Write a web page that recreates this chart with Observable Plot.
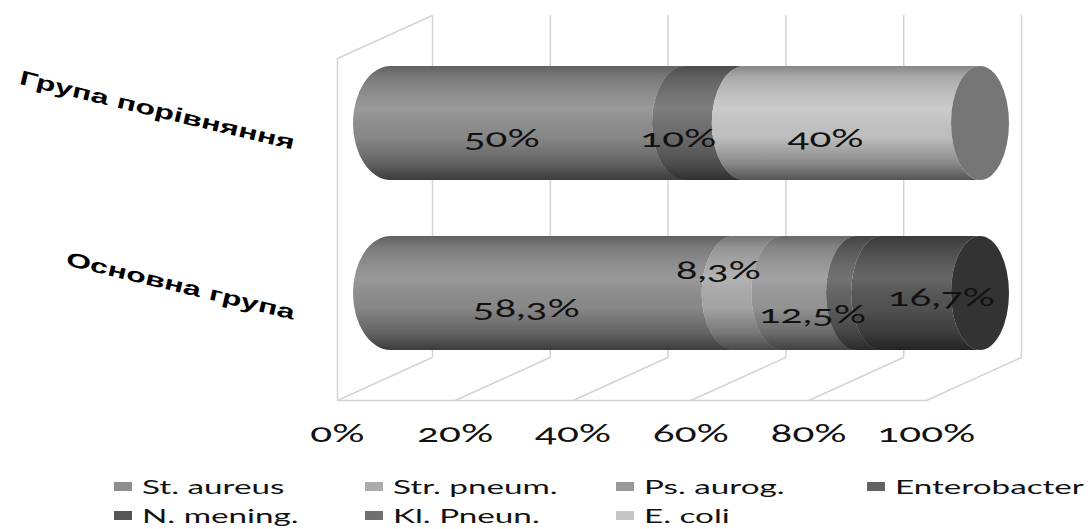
<!DOCTYPE html>
<html>
<head>
<meta charset="utf-8">
<script src="https://cdn.jsdelivr.net/npm/d3@7"></script>
<script src="https://cdn.jsdelivr.net/npm/@observablehq/plot@0.6"></script>
<style>
  body { margin: 0; background: #fff; }
  #chart { position: relative; width: 1088px; height: 529px; overflow: hidden; }
  #chart svg text { font-variant-numeric: oldstyle-nums; }
  .legend { position: absolute; left: 0; top: 460px; width: 1088px; height: 69px;
            font-family: Lato, "Open Sans", sans-serif; font-size: 20px; color: #111; }
  .item { position: absolute; display: flex; align-items: center; white-space: nowrap; height: 24px; }
  .sw { width: 18px; height: 9px; margin-right: 10px; flex: none; }
  .lbl { display: inline-block; transform: scaleX(1.66); transform-origin: left center; }
</style>
</head>
<body>
<div id="chart"></div>
<script>
// Groups of patients and the pathogens found in them (share of isolates, %)
const groups = ["Група порівняння", "Основна група"];
const species = ["St. aureus", "Str. pneum.", "Ps. aurog.", "Enterobacter", "N. mening.", "Kl. Pneun.", "E. coli"];
const comparisonPct = [50, 0, 0, 0, 0, 10, 40];
const mainPct = [58.3, 8.3, 12.5, 4.2, 16.7, 0, 0];
const speciesGreys = ["#8e8e8e", "#ababab", "#999999", "#636363", "#555555", "#707070", "#c6c6c6"];
const tickValues = [0, 20, 40, 60, 80, 100];

// Long table for the stacked bars
const rows = [];
[[groups[0], comparisonPct], [groups[1], mainPct]].forEach(([group, pcts]) =>
  pcts.forEach((value, i) => { if (value > 0) rows.push({group, species: species[i], value}); })
);

const pct = v => String(v).replace(".", ",") + "%";

// Label offsets from the segment centre; the crowded ones in the main group get their own
const defaultOffset = [-37, 15];
const labelOffset = {
  "Основна група|Str. pneum.": [-41, -23],
  "Основна група|Ps. aurog.": [-8, 21],
  "Основна група|N. mening.": [10, 4]
};
const key = d => d.group + "|" + d.species;

const grid = "#d3d3d3";
const front = -54, back = 41;           // floor depth offsets (front edge / back wall)
const edge = {draw(ctx, l) { ctx.moveTo(0, 0); ctx.lineTo(0, -l); }};
const labelFont = "Lato, 'Open Sans', sans-serif";

const labelMark = (keep, [dx, dy]) => Plot.text(rows, Plot.stackX({
  x: "value", y: "group",
  text: d => keep(d) && d.value >= 5 ? pct(d.value) : "",
  dx, dy, fontSize: 25, fontFamily: labelFont, fill: "#111"
}));

const chart = Plot.plot({
  width: 1088,
  height: 460,
  marginLeft: 391,
  marginRight: 108,
  marginTop: 10,
  marginBottom: 54,
  style: {background: "transparent", overflow: "visible"},
  x: {domain: [0, 100], axis: null},
  y: {domain: groups, padding: 0.329, axis: null},
  color: {domain: species, range: speciesGreys},
  marks: [
    // back wall gridlines
    Plot.ruleX(tickValues, {x: d => d, dx: back, insetTop: 5, insetBottom: 49, stroke: grid, strokeWidth: 1.5}),
    // floor lines running from the front edge to the back wall
    Plot.vector(tickValues, {x: d => d, frameAnchor: "bottom", dx: front, dy: -6, length: 104, rotate: 65.6,
      anchor: "start", shape: edge, stroke: grid, strokeWidth: 1.5}),
    // front edge of the floor
    Plot.frame({anchor: "bottom", dx: front, dy: -6, stroke: grid, strokeWidth: 1.5}),
    // left side wall
    Plot.ruleX([0], {x: d => d, dx: front, insetTop: 48, insetBottom: 6, stroke: grid, strokeWidth: 1.5}),
    Plot.vector([0], {x: d => d, frameAnchor: "top", dx: front, dy: 48, length: 104, rotate: 65.6,
      anchor: "start", shape: edge, stroke: grid, strokeWidth: 1.5}),
    // stacked segments (reshaped into cylinders below)
    Plot.barX(rows, {x: "value", y: "group", fill: "species"}),
    // value labels
    labelMark(d => !(key(d) in labelOffset), defaultOffset),
    ...Object.entries(labelOffset).map(([k, off]) => labelMark(d => key(d) === k, off)),
    // x tick labels under the floor
    Plot.text(tickValues, {x: d => d, frameAnchor: "bottom", dx: front, dy: 35, text: d => d + "%",
      fontSize: 25, fontFamily: labelFont, fill: "#111"}),
    // group labels
    Plot.text(groups, {y: d => d, x: () => 0, text: d => d, dx: -97, dy: 20, rotate: 13.5, textAnchor: "end",
      fontSize: 20, fontWeight: "bold", fontFamily: "'Liberation Sans', Arial, sans-serif", fill: "#000"})
  ]
});

const host = document.getElementById("chart");
host.appendChild(chart);

// Widen every label horizontally
chart.querySelectorAll("text").forEach(t => {
  const len = t.getComputedTextLength();
  if (len > 0) {
    const w = getComputedStyle(t).fontWeight;
    const bold = w === "bold" || +w >= 600;
    t.setAttribute("textLength", (len * (bold ? 1.6 : 1.62)).toFixed(1));
    t.setAttribute("lengthAdjust", "spacingAndGlyphs");
  }
});

// Turn the flat stacked bars into shaded cylinders
const ns = "http://www.w3.org/2000/svg";
const xs = chart.scale("x");
const px0 = xs.apply(0), px100 = xs.apply(100);
const rxAt = px => 38 + (29 - 38) * (px - px0) / (px100 - px0);

const defs = document.createElementNS(ns, "defs");
const grad = document.createElementNS(ns, "linearGradient");
grad.setAttribute("id", "cyl-shade");
grad.setAttribute("x1", 0); grad.setAttribute("y1", 0); grad.setAttribute("x2", 0); grad.setAttribute("y2", 1);
[[0, "#000", 0.32], [0.1, "#000", 0.14], [0.38, "#fff", 0.10], [0.62, "#000", 0.04], [0.85, "#000", 0.30], [1, "#000", 0.58]]
  .forEach(([o, c, a]) => {
    const s = document.createElementNS(ns, "stop");
    s.setAttribute("offset", o); s.setAttribute("stop-color", c); s.setAttribute("stop-opacity", a);
    grad.appendChild(s);
  });
defs.appendChild(grad);
chart.insertBefore(defs, chart.firstChild);

const barGroup = chart.querySelector('g[aria-label="bar"]');
const rects = [...barGroup.querySelectorAll("rect")];
const byRow = d3.group(rects, r => r.getAttribute("y"));
const path = (a, b, top, bottom, ry) =>
  `M${a},${top}H${b}A${rxAt(b)},${ry} 0 0 0 ${b},${bottom}H${a}A${rxAt(a)},${ry} 0 0 1 ${a},${top}Z`;

for (const [, segs] of byRow) {
  const top = +segs[0].getAttribute("y"), h = +segs[0].getAttribute("height");
  const bottom = top + h, ry = h / 2;
  let minA = Infinity, maxB = -Infinity, lastFill = null;
  for (const r of segs) {
    const a = +r.getAttribute("x"), b = a + +r.getAttribute("width");
    const p = document.createElementNS(ns, "path");
    p.setAttribute("d", path(a, b, top, bottom, ry));
    p.setAttribute("fill", r.getAttribute("fill"));
    barGroup.appendChild(p);
    minA = Math.min(minA, a);
    if (b > maxB) { maxB = b; lastFill = r.getAttribute("fill"); }
    r.remove();
  }
  const shade = document.createElementNS(ns, "path");
  shade.setAttribute("d", path(minA, maxB, top, bottom, ry));
  shade.setAttribute("fill", "url(#cyl-shade)");
  barGroup.appendChild(shade);
  const cap = document.createElementNS(ns, "ellipse");
  cap.setAttribute("cx", maxB); cap.setAttribute("cy", top + ry);
  cap.setAttribute("rx", rxAt(maxB)); cap.setAttribute("ry", ry);
  cap.setAttribute("fill", d3.color(lastFill).darker(1.45).formatHex());
  barGroup.appendChild(cap);
}

// Legend in two rows, four columns
const legend = document.createElement("div");
legend.className = "legend";
species.forEach((name, i) => {
  const item = document.createElement("div");
  item.className = "item";
  item.style.left = (114 + (i % 4) * 251) + "px";
  item.style.top = (i < 4 ? 14 : 43) + "px";
  item.innerHTML = `<span class="sw" style="background:${speciesGreys[i]}"></span><span class="lbl">${name}</span>`;
  legend.appendChild(item);
});
host.appendChild(legend);
</script>
</body>
</html>
